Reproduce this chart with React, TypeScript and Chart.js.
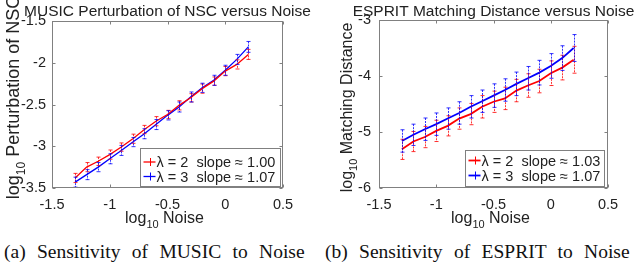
import React, { useEffect, useRef } from 'react';
import { Chart, registerables } from 'chart.js';

Chart.register(...registerables);

// ---------- data ----------
const noiseLog = [-1.3, -1.2, -1.1, -1.0, -0.9, -0.8, -0.7, -0.6, -0.5, -0.4, -0.3, -0.2, -0.1, 0.0, 0.1, 0.2];

const musicLambda2 = [-3.38, -3.25, -3.18, -3.10, -3.01, -2.91, -2.80, -2.70, -2.62, -2.51, -2.42, -2.31, -2.22, -2.10, -2.02, -1.90];
const musicLambda3 = [-3.43, -3.34, -3.25, -3.15, -3.05, -2.95, -2.85, -2.74, -2.63, -2.53, -2.41, -2.30, -2.21, -2.09, -1.96, -1.81];
const musicErr2 = [0.055, 0.055, 0.05, 0.055, 0.05, 0.055, 0.05, 0.055, 0.05, 0.055, 0.05, 0.055, 0.05, 0.055, 0.055, 0.06];
const musicErr3 = [0.06, 0.06, 0.055, 0.06, 0.06, 0.055, 0.06, 0.06, 0.055, 0.06, 0.06, 0.055, 0.06, 0.06, 0.06, 0.065];

const espritLambda2 = [-5.31, -5.17, -5.09, -4.98, -4.89, -4.76, -4.68, -4.55, -4.46, -4.40, -4.26, -4.17, -4.09, -3.95, -3.85, -3.71];
const espritLambda3 = [-5.16, -5.05, -4.95, -4.86, -4.76, -4.66, -4.55, -4.45, -4.35, -4.25, -4.14, -4.04, -3.94, -3.82, -3.68, -3.50];
const espritErr2 = [0.18, 0.18, 0.19, 0.19, 0.18, 0.19, 0.19, 0.2, 0.19, 0.2, 0.2, 0.21, 0.21, 0.22, 0.22, 0.24];
const espritErr3 = [0.2, 0.19, 0.2, 0.2, 0.19, 0.2, 0.2, 0.2, 0.21, 0.2, 0.21, 0.21, 0.22, 0.22, 0.22, 0.24];

const musicLegend = ['λ = 2  slope ≈ 1.00', 'λ = 3  slope ≈ 1.07'];
const espritLegend = ['λ = 2  slope ≈ 1.03', 'λ = 3  slope ≈ 1.07'];

const xTicks = [-1.5, -1, -0.5, 0, 0.5];
const musicYTicks = [-3.5, -3, -2.5, -2, -1.5];
const espritYTicks = [-6, -5, -4, -3];

const musicTitle = 'MUSIC Perturbation of NSC versus Noise';
const espritTitle = 'ESPRIT Matching Distance versus Noise';
const xLabelParts = [['log', false], ['10', true], [' Noise', false]];
const musicYLabelParts = [['log', false], ['10', true], [' Perturbation of NSC', false]];
const espritYLabelParts = [['log', false], ['10', true], [' Matching Distance', false]];

const captionA = '(a) Sensitivity of MUSIC to Noise';
const captionB = '(b) Sensitivity of ESPRIT to Noise';

// ---------- styling ----------
const FONT = '"Liberation Sans", Arial, Helvetica, sans-serif';
const TEXT = '#222222';
const FRAME = '#808080';
const RED = '#ff0000';
const BLUE = '#0000ff';

// ---------- plugins ----------
function drawRich(ctx: CanvasRenderingContext2D, parts: any[], size: number, subSize: number, subDy: number) {
  let w = 0;
  parts.forEach(([t, sub]) => {
    ctx.font = `${sub ? subSize : size}px ${FONT}`;
    w += ctx.measureText(t).width;
  });
  let x = -w / 2;
  parts.forEach(([t, sub]) => {
    ctx.font = `${sub ? subSize : size}px ${FONT}`;
    ctx.fillText(t, x, sub ? subDy : 0);
    x += ctx.measureText(t).width;
  });
}

const textPlugin = {
  id: 'panelText',
  afterDraw(chart: any, _a: any, opts: any) {
    const { ctx, chartArea } = chart;
    const cx = (chartArea.left + chartArea.right) / 2;
    const cy = (chartArea.top + chartArea.bottom) / 2;
    ctx.save();
    ctx.fillStyle = TEXT;
    ctx.textBaseline = 'alphabetic';
    ctx.textAlign = 'center';
    // title
    ctx.font = `${opts.titleSize}px ${FONT}`;
    ctx.fillText(opts.title, cx, opts.titleBaseline);
    ctx.textAlign = 'left';
    // x title
    ctx.save();
    ctx.translate(cx + opts.xDx, chartArea.bottom + opts.xDy);
    drawRich(ctx, opts.xParts, opts.xSize, opts.xSubSize, 5);
    ctx.restore();
    // y title
    ctx.save();
    ctx.translate(chartArea.left - opts.yDx, cy + opts.yDy);
    ctx.rotate(-Math.PI / 2);
    drawRich(ctx, opts.yParts, opts.ySize, opts.ySubSize, opts.ySubDy);
    ctx.restore();
    ctx.restore();
  },
};

const errorBarPlugin = {
  id: 'errorBars',
  afterDatasetsDraw(chart: any) {
    const { ctx } = chart;
    const xs = chart.scales.x;
    const ys = chart.scales.y;
    chart.data.datasets.forEach((ds: any) => {
      ctx.save();
      ctx.strokeStyle = ds.borderColor;
      ctx.lineWidth = 1;
      ctx.globalAlpha = 0.8;
      ds.data.forEach((pt: any, i: number) => {
        const e = ds.errors[i];
        const x = Math.round(xs.getPixelForValue(pt.x)) + 0.5;
        const y1 = ys.getPixelForValue(pt.y + e);
        const y2 = ys.getPixelForValue(pt.y - e);
        ctx.setLineDash([2, 1]);
        ctx.beginPath();
        ctx.moveTo(x, y1);
        ctx.lineTo(x, y2);
        ctx.stroke();
        ctx.setLineDash([]);
        ctx.beginPath();
        ctx.moveTo(x - 2, y1);
        ctx.lineTo(x + 2, y1);
        ctx.moveTo(x - 2, y2);
        ctx.lineTo(x + 2, y2);
        ctx.stroke();
      });
      ctx.restore();
    });
  },
};

const framePlugin = {
  id: 'frameTicks',
  afterDraw(chart: any) {
    const { ctx, chartArea } = chart;
    const { left, right, top, bottom } = chartArea;
    const xs = chart.scales.x;
    const ys = chart.scales.y;
    ctx.save();
    ctx.strokeStyle = FRAME;
    ctx.lineWidth = 1;
    const L = Math.round(left) + 0.5, R = Math.round(right) - 0.5, T = Math.round(top) + 0.5, B = Math.round(bottom) - 0.5;
    ctx.strokeRect(L, T, R - L, B - T);
    ctx.beginPath();
    xs.ticks.forEach((t: any) => {
      const x = Math.round(xs.getPixelForValue(t.value)) + 0.5;
      ctx.moveTo(x, B); ctx.lineTo(x, B - 3);
      ctx.moveTo(x, T); ctx.lineTo(x, T + 3);
    });
    ys.ticks.forEach((t: any) => {
      const y = Math.round(ys.getPixelForValue(t.value)) + 0.5;
      ctx.moveTo(L, y); ctx.lineTo(L + 3, y);
      ctx.moveTo(R, y); ctx.lineTo(R - 3, y);
    });
    ctx.stroke();
    ctx.restore();
  },
};

const boxLegendPlugin = {
  id: 'boxLegend',
  afterDraw(chart: any, _a: any, opts: any) {
    const { ctx, chartArea } = chart;
    const x0 = Math.round(chartArea.right - opts.rightInset - opts.width) + 0.5;
    const y0 = Math.round(chartArea.bottom - opts.bottomInset - opts.height) + 0.5;
    ctx.save();
    ctx.fillStyle = '#ffffff';
    ctx.fillRect(x0, y0, opts.width, opts.height);
    ctx.strokeStyle = FRAME;
    ctx.lineWidth = 1;
    ctx.strokeRect(x0, y0, opts.width, opts.height);
    chart.data.datasets.forEach((ds: any, i: number) => {
      const cy = y0 + opts.rows[i];
      ctx.strokeStyle = ds.borderColor;
      ctx.lineWidth = ds.borderWidth;
      ctx.beginPath();
      ctx.moveTo(x0 + 3, cy);
      ctx.lineTo(x0 + 15, cy);
      ctx.stroke();
      ctx.lineWidth = 1;
      ctx.beginPath();
      ctx.moveTo(Math.round(x0 + 9) + 0.5, cy - 4);
      ctx.lineTo(Math.round(x0 + 9) + 0.5, cy + 4);
      ctx.stroke();
      ctx.fillStyle = TEXT;
      ctx.font = `${opts.fontSize}px ${FONT}`;
      ctx.textBaseline = 'middle';
      ctx.textAlign = 'left';
      ctx.fillText(ds.label, x0 + 16, cy + 1);
    });
    ctx.restore();
  },
};

// ---------- config ----------
function makeConfig(p: any) {
  const tickFont = { family: FONT, size: 14.5 };
  const ds = (label: string, ys: number[], errs: number[], color: string) => ({
    label,
    data: noiseLog.map((x, i) => ({ x, y: ys[i] })),
    errors: errs,
    borderColor: color,
    backgroundColor: color,
    borderWidth: p.lineWidth,
    pointRadius: 0,
    tension: 0,
  });
  return {
    type: 'line',
    data: {
      datasets: [
        ds(p.legend[0], p.y2, p.e2, RED),
        ds(p.legend[1], p.y3, p.e3, BLUE),
      ],
    },
    options: {
      responsive: false,
      animation: false,
      devicePixelRatio: 1,
      layout: { padding: { left: 0, top: p.padTop, right: p.padRight, bottom: 0 } },
      plugins: {
        legend: { display: false },
        tooltip: { enabled: false },
        title: { display: false },
        panelText: {
          title: p.title,
          titleSize: 15.5,
          titleBaseline: 15.5,
          xParts: xLabelParts,
          xSize: 16,
          xSubSize: 11,
          xDx: -3,
          xDy: 34.5,
          yParts: p.yParts,
          ySize: p.yLabelSize,
          ySubSize: p.yLabelSubSize,
          ySubDy: p.yLabelSubDy,
          yDx: p.yTitleDx,
          yDy: p.yTitleDy,
        },
        boxLegend: p.legendBox,
      },
      scales: {
        x: {
          type: 'linear',
          min: xTicks[0],
          max: xTicks[xTicks.length - 1],
          afterBuildTicks: (s: any) => { s.ticks = xTicks.map((v) => ({ value: v })); },
          afterFit: (s: any) => { s.height = 52; s.paddingLeft = 0; s.paddingRight = 0; },
          grid: { display: false, drawTicks: false },
          border: { display: false },
          ticks: { padding: 8, font: tickFont, color: TEXT, maxRotation: 0, autoSkip: false, callback: (v: number) => String(v) },
        },
        y: {
          type: 'linear',
          min: p.yTicks[0],
          max: p.yTicks[p.yTicks.length - 1],
          afterBuildTicks: (s: any) => { s.ticks = p.yTicks.map((v: number) => ({ value: v })); },
          afterFit: (s: any) => { s.width = p.yAxisW; s.paddingTop = 0; s.paddingBottom = 0; },
          grid: { display: false, drawTicks: false },
          border: { display: false },
          ticks: { padding: p.yTickPad, font: tickFont, color: TEXT, autoSkip: false, callback: (v: number) => String(v) },
        },
      },
    },
    plugins: [errorBarPlugin, framePlugin, boxLegendPlugin, textPlugin],
  };
}

const musicPanel = {
  title: musicTitle,
  legend: musicLegend,
  y2: musicLambda2,
  y3: musicLambda3,
  e2: musicErr2,
  e3: musicErr3,
  yTicks: musicYTicks,
  yParts: musicYLabelParts,
  yAxisW: 52,
  padTop: 21,
  padRight: 37,
  yTickPad: 6,
  yTitleDx: 33,
  yTitleDy: -7,
  yLabelSize: 18,
  yLabelSubSize: 12,
  yLabelSubDy: 5.5,
  lineWidth: 1.3,
  legendBox: { width: 140, height: 38, rightInset: 3, bottomInset: 2, rows: [13.5, 28], fontSize: 14.5 },
};

const espritPanel = {
  title: espritTitle,
  legend: espritLegend,
  y2: espritLambda2,
  y3: espritLambda3,
  e2: espritErr2,
  e3: espritErr3,
  yTicks: espritYTicks,
  yParts: espritYLabelParts,
  yAxisW: 59,
  padTop: 20,
  padRight: 32,
  yTickPad: 8,
  yTitleDx: 27,
  yTitleDy: 3.5,
  yLabelSize: 16,
  yLabelSubSize: 11,
  yLabelSubDy: 5,
  lineWidth: 1.8,
  legendBox: { width: 139, height: 36, rightInset: 4, bottomInset: 2, rows: [10, 25], fontSize: 14.5 },
};

const captionStyle = (left: number): React.CSSProperties => ({
  position: 'absolute',
  left,
  top: 242,
  fontFamily: '"Liberation Serif", "Times New Roman", serif',
  fontSize: '19.5px',
  lineHeight: '19.5px',
  wordSpacing: '6.5px',
  whiteSpace: 'nowrap',
  color: '#111',
});

export default function App() {
  const leftRef = useRef<HTMLCanvasElement>(null);
  const rightRef = useRef<HTMLCanvasElement>(null);
  useEffect(() => {
    const c1 = new Chart(leftRef.current as HTMLCanvasElement, makeConfig(musicPanel) as any);
    const c2 = new Chart(rightRef.current as HTMLCanvasElement, makeConfig(espritPanel) as any);
    return () => {
      c1.destroy();
      c2.destroy();
    };
  }, []);
  return (
    <div style={{ position: 'fixed', left: 0, top: 0, width: 640, height: 270, background: '#fff', overflow: 'hidden' }}>
      <canvas ref={leftRef} width={320} height={240} style={{ position: 'absolute', left: 0, top: 0 }} />
      <canvas ref={rightRef} width={320} height={240} style={{ position: 'absolute', left: 320, top: 0 }} />
      <div style={captionStyle(4)}>{captionA}</div>
      <div style={captionStyle(325)}>{captionB}</div>
    </div>
  );
}
